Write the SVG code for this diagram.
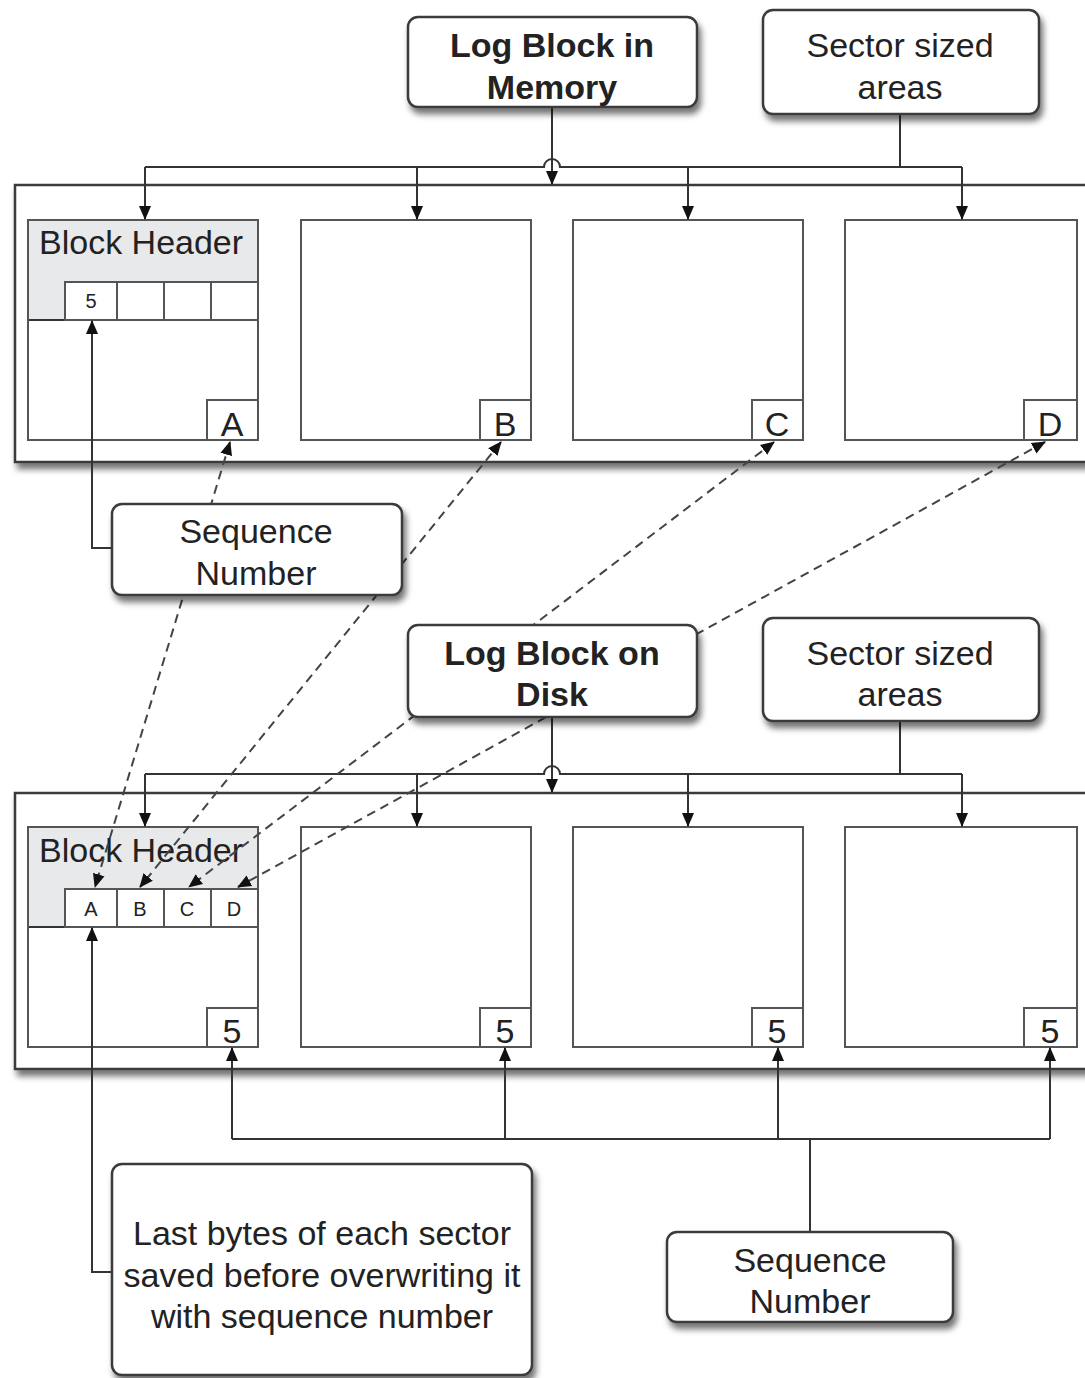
<svg xmlns="http://www.w3.org/2000/svg" width="1085" height="1378" viewBox="0 0 1085 1378">
  <defs>
    <style>
      .box { fill: #ffffff; stroke: #3a3a3a; stroke-width: 2.5; }
      .frame { fill: #ffffff; stroke: #3a3a3a; stroke-width: 2.5; }
      .sector { fill: #ffffff; stroke: #555555; stroke-width: 2; }
      .outline { fill: none; stroke: #555555; stroke-width: 2; }
      .hdr { fill: #e8e9eb; stroke: none; }
      .cell { fill: #ffffff; stroke: #555555; stroke-width: 2; }
      .line { fill: none; stroke: #333333; stroke-width: 2; }
      .dash { fill: none; stroke: #444444; stroke-width: 2; stroke-dasharray: 9 6; }
      text { font-family: "Liberation Sans", Arial, sans-serif; fill: #222222; }
      .lbl { font-size: 34px; text-anchor: middle; }
      .bold { font-weight: bold; }
      .hd { font-size: 34px; }
      .tag { font-size: 34px; text-anchor: middle; }
      .sm { font-size: 20px; text-anchor: middle; }
    </style>
    <filter id="shadow" x="-10%" y="-10%" width="130%" height="140%">
      <feDropShadow dx="3" dy="6" stdDeviation="3" flood-color="#000000" flood-opacity="0.55"/>
    </filter>
    <marker id="arr" viewBox="0 0 14 14" refX="13" refY="7" markerWidth="14" markerHeight="14" markerUnits="userSpaceOnUse" orient="auto-start-reverse">
      <path d="M0,1 L14,7 L0,13 Z" fill="#111111"/>
    </marker>
  </defs>

  <!-- Log block in memory: container with four sectors -->
  <g id="mem-block">
    <rect class="frame" x="15" y="185" width="1080" height="277" filter="url(#shadow)"/>
    <g id="mem-sector-a">
      <rect class="sector" x="28" y="220" width="230" height="220"/>
      <path class="hdr" d="M29,221 H257 V282 H65 V320 H29 Z"/>
      <line class="line" x1="28" y1="320" x2="65" y2="320"/>
      <rect class="cell" x="65" y="282" width="52" height="38"/>
      <rect class="cell" x="117" y="282" width="47" height="38"/>
      <rect class="cell" x="164" y="282" width="47" height="38"/>
      <rect class="cell" x="211" y="282" width="47" height="38"/>
      <rect class="outline" x="28" y="220" width="230" height="220"/>
      <text class="hd" x="39" y="254">Block Header</text>
      <text class="sm" x="91" y="308">5</text>
      <rect class="cell" x="207" y="400" width="51" height="40"/>
      <text class="tag" x="232" y="436">A</text>
    </g>
    <g id="mem-sector-b">
      <rect class="sector" x="301" y="220" width="230" height="220"/>
      <rect class="cell" x="480" y="400" width="51" height="40"/>
      <text class="tag" x="505" y="436">B</text>
    </g>
    <g id="mem-sector-c">
      <rect class="sector" x="573" y="220" width="230" height="220"/>
      <rect class="cell" x="752" y="400" width="51" height="40"/>
      <text class="tag" x="777" y="436">C</text>
    </g>
    <g id="mem-sector-d">
      <rect class="sector" x="845" y="220" width="232" height="220"/>
      <rect class="cell" x="1024" y="400" width="53" height="40"/>
      <text class="tag" x="1050" y="436">D</text>
    </g>
  </g>

  <!-- Log block on disk: container with four sectors -->
  <g id="disk-block">
    <rect class="frame" x="15" y="793" width="1080" height="276" filter="url(#shadow)"/>
    <g id="disk-sector-a">
      <rect class="sector" x="28" y="827" width="230" height="220"/>
      <path class="hdr" d="M29,828 H257 V889 H65 V927 H29 Z"/>
      <line class="line" x1="28" y1="927" x2="65" y2="927"/>
      <rect class="cell" x="65" y="889" width="52" height="38"/>
      <rect class="cell" x="117" y="889" width="47" height="38"/>
      <rect class="cell" x="164" y="889" width="47" height="38"/>
      <rect class="cell" x="211" y="889" width="47" height="38"/>
      <rect class="outline" x="28" y="827" width="230" height="220"/>
      <text class="hd" x="39" y="862">Block Header</text>
      <text class="sm" x="91" y="916">A</text>
      <text class="sm" x="140" y="916">B</text>
      <text class="sm" x="187" y="916">C</text>
      <text class="sm" x="234" y="916">D</text>
      <rect class="cell" x="207" y="1008" width="51" height="39"/>
      <text class="tag" x="232" y="1043">5</text>
    </g>
    <g id="disk-sector-b">
      <rect class="sector" x="301" y="827" width="230" height="220"/>
      <rect class="cell" x="480" y="1008" width="51" height="39"/>
      <text class="tag" x="505" y="1043">5</text>
    </g>
    <g id="disk-sector-c">
      <rect class="sector" x="573" y="827" width="230" height="220"/>
      <rect class="cell" x="752" y="1008" width="51" height="39"/>
      <text class="tag" x="777" y="1043">5</text>
    </g>
    <g id="disk-sector-d">
      <rect class="sector" x="845" y="827" width="232" height="220"/>
      <rect class="cell" x="1024" y="1008" width="53" height="39"/>
      <text class="tag" x="1050" y="1043">5</text>
    </g>
  </g>

  <!-- Connectors -->
  <g id="connectors">
    <!-- memory: block label and sector fan-out (line hop over the vertical) -->
    <line class="line" x1="552" y1="107" x2="552" y2="184" marker-end="url(#arr)"/>
    <path class="line" d="M900,114 V167 H560 A8,8 0 0 0 544,167 H145"/>
    <line class="line" x1="900" y1="167" x2="962" y2="167"/>
    <line class="line" x1="962" y1="167" x2="962" y2="219" marker-end="url(#arr)"/>
    <line class="line" x1="145" y1="167" x2="145" y2="219" marker-end="url(#arr)"/>
    <line class="line" x1="417" y1="167" x2="417" y2="219" marker-end="url(#arr)"/>
    <line class="line" x1="688" y1="167" x2="688" y2="219" marker-end="url(#arr)"/>

    <!-- disk: block label and sector fan-out -->
    <line class="line" x1="552" y1="717" x2="552" y2="792" marker-end="url(#arr)"/>
    <path class="line" d="M900,721 V774 H560 A8,8 0 0 0 544,774 H145"/>
    <line class="line" x1="900" y1="774" x2="962" y2="774"/>
    <line class="line" x1="962" y1="774" x2="962" y2="826" marker-end="url(#arr)"/>
    <line class="line" x1="145" y1="774" x2="145" y2="826" marker-end="url(#arr)"/>
    <line class="line" x1="417" y1="774" x2="417" y2="826" marker-end="url(#arr)"/>
    <line class="line" x1="688" y1="774" x2="688" y2="826" marker-end="url(#arr)"/>

    <!-- sequence number into header slot -->
    <path class="line" d="M112,548 H92 V321" marker-end="url(#arr)"/>

    <!-- sector tails saved in disk header slots -->
    <line class="dash" x1="230" y1="442" x2="95" y2="887" marker-start="url(#arr)" marker-end="url(#arr)"/>
    <line class="dash" x1="501" y1="442" x2="140" y2="887" marker-start="url(#arr)" marker-end="url(#arr)"/>
    <line class="dash" x1="774" y1="442" x2="189" y2="887" marker-start="url(#arr)" marker-end="url(#arr)"/>
    <line class="dash" x1="1045" y1="442" x2="238" y2="887" marker-start="url(#arr)" marker-end="url(#arr)"/>

    <!-- saved bytes note -->
    <path class="line" d="M112,1272 H92 V928" marker-end="url(#arr)"/>

    <!-- sequence number stamped at end of each sector -->
    <path class="line" d="M810,1232 V1139"/>
    <line class="line" x1="232" y1="1139" x2="1050" y2="1139"/>
    <line class="line" x1="232" y1="1139" x2="232" y2="1048" marker-end="url(#arr)"/>
    <line class="line" x1="505" y1="1139" x2="505" y2="1048" marker-end="url(#arr)"/>
    <line class="line" x1="778" y1="1139" x2="778" y2="1048" marker-end="url(#arr)"/>
    <line class="line" x1="1050" y1="1139" x2="1050" y2="1048" marker-end="url(#arr)"/>
  </g>

  <!-- Labels -->
  <g id="log-block-memory">
    <rect class="box" x="408" y="17" width="289" height="90" rx="10" filter="url(#shadow)"/>
    <text class="lbl bold" x="552" y="57">Log Block in</text>
    <text class="lbl bold" x="552" y="99">Memory</text>
  </g>
  <g id="sector-areas-top">
    <rect class="box" x="763" y="10" width="276" height="104" rx="10" filter="url(#shadow)"/>
    <text class="lbl" x="900" y="57">Sector sized</text>
    <text class="lbl" x="900" y="99">areas</text>
  </g>
  <g id="sequence-number-top">
    <rect class="box" x="112" y="504" width="290" height="91" rx="10" filter="url(#shadow)"/>
    <text class="lbl" x="256" y="543">Sequence</text>
    <text class="lbl" x="256" y="585">Number</text>
  </g>
  <g id="log-block-disk">
    <rect class="box" x="408" y="625" width="289" height="92" rx="10" filter="url(#shadow)"/>
    <text class="lbl bold" x="552" y="665">Log Block on</text>
    <text class="lbl bold" x="552" y="706">Disk</text>
  </g>
  <g id="sector-areas-bottom">
    <rect class="box" x="763" y="618" width="276" height="103" rx="10" filter="url(#shadow)"/>
    <text class="lbl" x="900" y="665">Sector sized</text>
    <text class="lbl" x="900" y="706">areas</text>
  </g>
  <g id="saved-bytes-note">
    <rect class="box" x="112" y="1164" width="420" height="211" rx="10" filter="url(#shadow)"/>
    <text class="lbl" x="322" y="1245">Last bytes of each sector</text>
    <text class="lbl" x="322" y="1287">saved before overwriting it</text>
    <text class="lbl" x="322" y="1328">with sequence number</text>
  </g>
  <g id="sequence-number-bottom">
    <rect class="box" x="667" y="1232" width="286" height="90" rx="10" filter="url(#shadow)"/>
    <text class="lbl" x="810" y="1272">Sequence</text>
    <text class="lbl" x="810" y="1313">Number</text>
  </g>
</svg>
